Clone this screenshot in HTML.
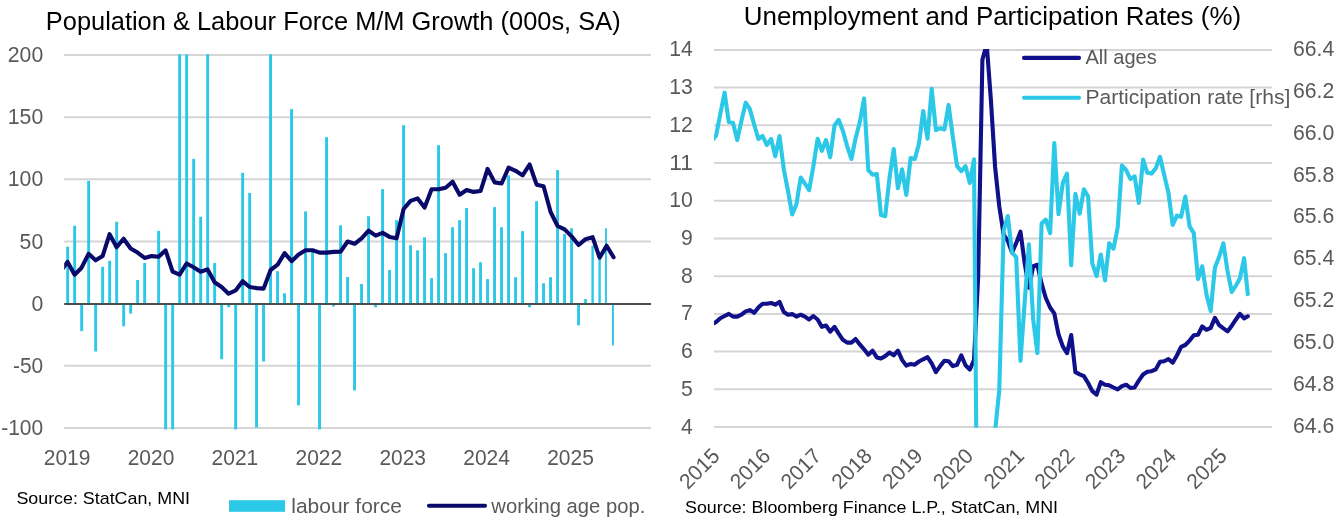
<!DOCTYPE html>
<html><head><meta charset="utf-8"><title>Charts</title>
<style>html,body{margin:0;padding:0;background:#fff;}svg{display:block;will-change:transform;}text{font-family:"Liberation Sans", sans-serif;}</style>
</head><body>
<svg width="1336" height="517" viewBox="0 0 1336 517">
<rect width="1336" height="517" fill="#fff"/>
<defs>
<clipPath id="cl"><rect x="64.2" y="54.3" width="586.8" height="375.1"/></clipPath>
<clipPath id="cr"><rect x="714" y="49.1" width="558" height="378.7"/></clipPath>
</defs>
<line x1="64.2" x2="651" y1="55" y2="55" stroke="#d5d5d5" stroke-width="2"/>
<line x1="64.2" x2="651" y1="117.2" y2="117.2" stroke="#d5d5d5" stroke-width="2"/>
<line x1="64.2" x2="651" y1="179.3" y2="179.3" stroke="#d5d5d5" stroke-width="2"/>
<line x1="64.2" x2="651" y1="241.5" y2="241.5" stroke="#d5d5d5" stroke-width="2"/>
<line x1="64.2" x2="651" y1="365.8" y2="365.8" stroke="#d5d5d5" stroke-width="2"/>
<line x1="64.2" x2="651" y1="427.9" y2="427.9" stroke="#d5d5d5" stroke-width="2"/>
<g clip-path="url(#cl)" fill="#2cc8e8">
<rect x="66.2" y="246.7" width="2.9" height="56.9"/>
<rect x="73.2" y="225.8" width="2.9" height="77.8"/>
<rect x="80.2" y="303.6" width="2.9" height="27.5"/>
<rect x="87.2" y="180.8" width="2.9" height="122.8"/>
<rect x="94.2" y="303.6" width="2.9" height="47.9"/>
<rect x="101.2" y="266.8" width="2.9" height="36.8"/>
<rect x="108.2" y="260.8" width="2.9" height="42.8"/>
<rect x="115.2" y="221.8" width="2.9" height="81.8"/>
<rect x="122.2" y="303.6" width="2.9" height="22.7"/>
<rect x="129.2" y="303.6" width="2.9" height="10"/>
<rect x="136.2" y="280" width="2.9" height="23.6"/>
<rect x="143.2" y="263" width="2.9" height="40.6"/>
<rect x="157.2" y="230.9" width="2.9" height="72.7"/>
<rect x="164.2" y="303.6" width="2.9" height="373.6"/>
<rect x="171.2" y="303.6" width="2.9" height="373.6"/>
<rect x="178.2" y="-193.6" width="2.9" height="497.2"/>
<rect x="185.2" y="-193.6" width="2.9" height="497.2"/>
<rect x="192.2" y="158.9" width="2.9" height="144.7"/>
<rect x="199.2" y="216.8" width="2.9" height="86.8"/>
<rect x="206.2" y="-193.6" width="2.9" height="497.2"/>
<rect x="213.2" y="263" width="2.9" height="40.6"/>
<rect x="220.2" y="303.6" width="2.9" height="55.6"/>
<rect x="227.2" y="303.6" width="2.9" height="3.7"/>
<rect x="234.2" y="303.6" width="2.9" height="373.6"/>
<rect x="241.2" y="172.8" width="2.9" height="130.8"/>
<rect x="248.2" y="193" width="2.9" height="110.6"/>
<rect x="255.1" y="303.6" width="2.9" height="123.9"/>
<rect x="262.1" y="303.6" width="2.9" height="57.9"/>
<rect x="269.1" y="-193.6" width="2.9" height="497.2"/>
<rect x="276.1" y="271.2" width="2.9" height="32.4"/>
<rect x="283.1" y="293.3" width="2.9" height="10.3"/>
<rect x="290.1" y="109.1" width="2.9" height="194.5"/>
<rect x="297.1" y="303.6" width="2.9" height="101.8"/>
<rect x="304.1" y="211.4" width="2.9" height="92.2"/>
<rect x="311.1" y="252.1" width="2.9" height="51.5"/>
<rect x="318.1" y="303.6" width="2.9" height="373.6"/>
<rect x="325.1" y="137.2" width="2.9" height="166.4"/>
<rect x="332.1" y="303.6" width="2.9" height="2.9"/>
<rect x="339.1" y="225.3" width="2.9" height="78.3"/>
<rect x="346.1" y="277" width="2.9" height="26.6"/>
<rect x="353.1" y="303.6" width="2.9" height="86.8"/>
<rect x="360.1" y="284" width="2.9" height="19.6"/>
<rect x="367.1" y="216.2" width="2.9" height="87.4"/>
<rect x="374.1" y="303.6" width="2.9" height="3.7"/>
<rect x="381.1" y="189.1" width="2.9" height="114.5"/>
<rect x="388.1" y="270" width="2.9" height="33.6"/>
<rect x="395.1" y="220.2" width="2.9" height="83.4"/>
<rect x="402.1" y="125.2" width="2.9" height="178.4"/>
<rect x="409.1" y="245.2" width="2.9" height="58.4"/>
<rect x="416.1" y="250.3" width="2.9" height="53.3"/>
<rect x="423.1" y="237.3" width="2.9" height="66.3"/>
<rect x="430.1" y="278.1" width="2.9" height="25.5"/>
<rect x="437.1" y="145.2" width="2.9" height="158.4"/>
<rect x="444.1" y="253.1" width="2.9" height="50.5"/>
<rect x="451.1" y="227.2" width="2.9" height="76.4"/>
<rect x="458.1" y="220.2" width="2.9" height="83.4"/>
<rect x="465.1" y="208.1" width="2.9" height="95.5"/>
<rect x="472.1" y="268.2" width="2.9" height="35.4"/>
<rect x="479.1" y="262.2" width="2.9" height="41.4"/>
<rect x="486.1" y="279.1" width="2.9" height="24.5"/>
<rect x="493.1" y="207.1" width="2.9" height="96.5"/>
<rect x="500.1" y="227.2" width="2.9" height="76.4"/>
<rect x="507.1" y="175.4" width="2.9" height="128.2"/>
<rect x="514.1" y="277.2" width="2.9" height="26.4"/>
<rect x="521.1" y="231.1" width="2.9" height="72.5"/>
<rect x="528.1" y="303.6" width="2.9" height="3.7"/>
<rect x="535.1" y="201.2" width="2.9" height="102.4"/>
<rect x="542.1" y="283.3" width="2.9" height="20.3"/>
<rect x="549.1" y="277.2" width="2.9" height="26.4"/>
<rect x="556.1" y="170.1" width="2.9" height="133.5"/>
<rect x="563.1" y="234.1" width="2.9" height="69.5"/>
<rect x="570.1" y="228.3" width="2.9" height="75.3"/>
<rect x="577.1" y="303.6" width="2.9" height="21.8"/>
<rect x="584.1" y="299.1" width="2.9" height="4.5"/>
<rect x="591.4" y="245.7" width="2.4" height="57.9"/>
<rect x="598.4" y="257.2" width="2.4" height="46.4"/>
<rect x="605" y="228.3" width="1.9" height="75.3"/>
<rect x="612" y="303.6" width="1.9" height="41.8"/>
</g>
<line x1="64.2" x2="651" y1="304" y2="304" stroke="#4c4c4c" stroke-width="2"/>
<g clip-path="url(#cl)"><polyline fill="none" stroke="#09096a" stroke-width="4.1" stroke-linejoin="round" stroke-linecap="round" points="61.2,270.5 67.6,261.9 74.6,274.7 81.6,267.7 88.6,253.8 95.6,260.3 102.6,256.1 109.6,234.1 116.6,247.3 123.6,238.7 130.6,248.5 137.6,252.6 144.6,258 151.6,256.1 158.6,256.8 165.6,250.3 172.6,271.7 179.6,274.7 186.6,263.5 193.6,267.3 200.6,271.7 207.6,269.4 214.6,282.3 221.6,287 228.6,293.7 235.6,290.5 242.6,281.2 249.6,287 256.6,288.1 263.6,288.6 270.6,270 277.6,264.7 284.6,253.1 291.6,261.2 298.6,254.5 305.6,250.3 312.6,250.3 319.6,252.6 326.6,252.6 333.6,251.9 340.6,251.7 347.6,241.5 354.6,243.8 361.6,238.3 368.6,230.6 375.6,235.7 382.6,232.9 389.6,236.9 396.6,238.3 403.6,209 410.6,200.9 417.6,198.4 424.6,207.6 431.6,189.3 438.6,189.3 445.6,187.7 452.6,181.7 459.6,194.7 466.6,190 473.6,191.9 480.6,191 487.6,168.9 494.6,182.4 501.6,183.5 508.6,167.7 515.6,170.8 522.6,175.4 529.6,164.5 536.6,184.7 543.6,186.3 550.6,212 557.6,226 564.6,229.4 571.6,236.4 578.6,245 585.6,239.2 592.6,237.1 599.6,257.7 606.6,245.7 613.6,257.3"/></g>
<text x="43.2" y="62" text-anchor="end" font-size="21.3" fill="#595959" textLength="35.4" lengthAdjust="spacingAndGlyphs">200</text>
<text x="43.2" y="124.2" text-anchor="end" font-size="21.3" fill="#595959" textLength="35.4" lengthAdjust="spacingAndGlyphs">150</text>
<text x="43.2" y="186.3" text-anchor="end" font-size="21.3" fill="#595959" textLength="35.4" lengthAdjust="spacingAndGlyphs">100</text>
<text x="43.2" y="248.5" text-anchor="end" font-size="21.3" fill="#595959" textLength="23.6" lengthAdjust="spacingAndGlyphs">50</text>
<text x="43.2" y="310.6" text-anchor="end" font-size="21.3" fill="#595959" textLength="11.8" lengthAdjust="spacingAndGlyphs">0</text>
<text x="43.2" y="372.8" text-anchor="end" font-size="21.3" fill="#595959" textLength="30.2" lengthAdjust="spacingAndGlyphs">-50</text>
<text x="43.2" y="434.9" text-anchor="end" font-size="21.3" fill="#595959" textLength="42" lengthAdjust="spacingAndGlyphs">-100</text>
<text x="67.1" y="465" text-anchor="middle" font-size="21.3" fill="#595959" textLength="46.6" lengthAdjust="spacingAndGlyphs">2019</text>
<text x="151" y="465" text-anchor="middle" font-size="21.3" fill="#595959" textLength="46.6" lengthAdjust="spacingAndGlyphs">2020</text>
<text x="234.9" y="465" text-anchor="middle" font-size="21.3" fill="#595959" textLength="46.6" lengthAdjust="spacingAndGlyphs">2021</text>
<text x="318.8" y="465" text-anchor="middle" font-size="21.3" fill="#595959" textLength="46.6" lengthAdjust="spacingAndGlyphs">2022</text>
<text x="402.7" y="465" text-anchor="middle" font-size="21.3" fill="#595959" textLength="46.6" lengthAdjust="spacingAndGlyphs">2023</text>
<text x="486.6" y="465" text-anchor="middle" font-size="21.3" fill="#595959" textLength="46.6" lengthAdjust="spacingAndGlyphs">2024</text>
<text x="570.5" y="465" text-anchor="middle" font-size="21.3" fill="#595959" textLength="46.6" lengthAdjust="spacingAndGlyphs">2025</text>
<text x="45.8" y="29.9" font-size="25.5" fill="#000" textLength="574.8" lengthAdjust="spacingAndGlyphs">Population &amp; Labour Force M/M Growth (000s, SA)</text>
<text x="16.4" y="503.5" font-size="16.4" fill="#000" textLength="173.6" lengthAdjust="spacingAndGlyphs">Source: StatCan, MNI</text>
<rect x="229" y="500.2" width="56" height="11.6" fill="#2cc8e8"/>
<text x="291.3" y="512.5" font-size="20.5" fill="#595959" textLength="110.6" lengthAdjust="spacingAndGlyphs">labour force</text>
<line x1="429" x2="485" y1="505.8" y2="505.8" stroke="#09096a" stroke-width="4.1" stroke-linecap="round"/>
<text x="491.3" y="512.5" font-size="20.5" fill="#595959" textLength="154" lengthAdjust="spacingAndGlyphs">working age pop.</text>
<line x1="714" x2="1272" y1="49.9" y2="49.9" stroke="#d5d5d5" stroke-width="2"/>
<line x1="714" x2="1272" y1="87.6" y2="87.6" stroke="#d5d5d5" stroke-width="2"/>
<line x1="714" x2="1272" y1="125.3" y2="125.3" stroke="#d5d5d5" stroke-width="2"/>
<line x1="714" x2="1272" y1="163" y2="163" stroke="#d5d5d5" stroke-width="2"/>
<line x1="714" x2="1272" y1="200.7" y2="200.7" stroke="#d5d5d5" stroke-width="2"/>
<line x1="714" x2="1272" y1="238.5" y2="238.5" stroke="#d5d5d5" stroke-width="2"/>
<line x1="714" x2="1272" y1="276.2" y2="276.2" stroke="#d5d5d5" stroke-width="2"/>
<line x1="714" x2="1272" y1="313.9" y2="313.9" stroke="#d5d5d5" stroke-width="2"/>
<line x1="714" x2="1272" y1="351.6" y2="351.6" stroke="#d5d5d5" stroke-width="2"/>
<line x1="714" x2="1272" y1="389.3" y2="389.3" stroke="#d5d5d5" stroke-width="2"/>
<line x1="714" x2="1272" y1="427" y2="427" stroke="#d5d5d5" stroke-width="2"/>
<g clip-path="url(#cr)">
<polyline fill="none" stroke="#10108a" stroke-width="4.1" stroke-linejoin="round" stroke-linecap="round" points="711,325 716.1,322 720.3,318.2 724.6,316 728.8,313.9 733,316.6 737.2,316.6 741.5,314.7 745.7,311.4 749.9,310.1 754.2,312.8 758.4,307.4 762.6,303.8 766.8,303.8 771.1,303 775.3,304.7 779.5,301.9 783.8,312 788,314.7 792.2,314.1 796.4,316.6 800.7,314.7 804.9,316.6 809.1,319.5 813.3,316 817.6,319.5 821.8,326.8 826,325.5 830.2,331.7 834.5,326.8 838.7,333.6 842.9,339.8 847.2,342.6 851.4,342.6 855.6,339 859.8,344.4 864.1,349.3 868.3,354.7 872.5,350.7 876.8,357.4 881,358.5 885.2,356.1 889.4,352.6 893.7,355.3 897.9,350.7 902.1,359.9 906.3,365.6 910.6,363.9 914.8,364.7 919,361.5 923.2,359.3 927.5,357.2 931.7,363.4 935.9,372.1 940.2,366.1 944.4,360.7 948.6,361.2 952.8,366.1 957.1,364.7 961.3,355.3 965.5,365.3 969.8,369.6 974,360 978.2,276 982.4,59.8 986.7,44 990.9,100 995.1,167 999.3,206.5 1003.6,234.4 1007.8,240.9 1012,252.6 1016.2,243.1 1020.5,231.7 1024.7,263.4 1028.9,287.8 1033.2,266.1 1037.4,264.8 1041.6,283.7 1045.8,298 1050.1,307.5 1054.3,313.4 1058.5,334.3 1062.8,346.4 1067,353.2 1071.2,335 1075.4,372.2 1079.7,374.3 1083.9,376.2 1088.1,383 1092.3,391.1 1096.6,394.6 1100.8,382.2 1105,384.7 1109.2,385.3 1113.5,387.5 1117.7,389.4 1121.9,386.1 1126.2,384.7 1130.4,388 1134.6,387.5 1138.8,380.7 1143.1,374.5 1147.3,371.8 1151.5,371.2 1155.8,369.3 1160,361.7 1164.2,361.2 1168.4,359 1172.7,362.6 1176.9,355.5 1181.1,346.8 1185.3,345 1189.6,340.6 1193.8,335.2 1198,334.7 1202.2,326.5 1206.5,329.8 1210.7,327.9 1214.9,317.9 1219.2,325.2 1223.4,328.4 1227.6,331.4 1231.8,325.7 1236.1,319.2 1239.9,313.8 1244.1,318.4 1247.8,316.3"/>
<polyline fill="none" stroke="#2cc8e8" stroke-width="4.1" stroke-linejoin="round" stroke-linecap="round" points="711,142 716.1,135.5 720.3,113.8 724.6,92.7 728.8,122 733,122.8 737.2,140.1 741.5,120.6 745.7,102.7 749.9,109.2 754.2,124.7 758.4,139 762.6,136 766.8,145 771.1,139 775.3,156.3 779.5,136 783.8,169.3 788,191 792.2,214.5 796.4,204.5 800.7,177.5 804.9,183.7 809.1,190.2 813.3,166.6 817.6,138.7 821.8,150.9 826,140.1 830.2,157.2 834.5,125.5 838.7,119.8 842.9,130.9 847.2,146.3 851.4,159 855.6,138.2 859.8,122 864.1,98.4 868.3,170.1 872.5,174.7 876.8,173.9 881,215 885.2,216.2 889.4,178.8 893.7,149 897.9,188.3 902.1,169.3 906.3,195 910.6,158 914.8,159 919,143.6 923.2,111.1 927.5,138.7 931.7,88.9 935.9,130.1 940.2,128.2 944.4,129.5 948.6,104.9 952.8,136.8 957.1,166.1 961.3,171.2 965.5,166.1 969.8,182.9 974,159.3 978.2,664 982.4,2000 986.7,1700 990.9,1200 995.1,431 999.3,389.7 1003.6,231 1007.8,216 1012,252.6 1016.2,257.2 1020.5,360.8 1024.7,302 1028.9,244.4 1033.2,319.4 1037.4,353.2 1041.6,223.6 1045.8,219.6 1050.1,233.2 1054.3,143 1058.5,214.2 1062.8,183.1 1067,173.6 1071.2,265.3 1075.4,193.9 1079.7,213.7 1083.9,189.3 1088.1,196.6 1092.3,263.4 1096.6,276.1 1100.8,254.5 1105,280.4 1109.2,243.3 1113.5,248.7 1117.7,227.4 1121.9,165.5 1126.2,170.1 1130.4,179 1134.6,176.3 1138.8,202.9 1143.1,159.5 1147.3,172.8 1151.5,173.6 1155.8,168.2 1160,156.8 1164.2,175 1168.4,192.6 1172.7,225 1176.9,215.6 1181.1,216.9 1185.3,196.6 1189.6,226.4 1193.8,233.2 1198,279 1202.2,266.3 1206.5,294.7 1210.7,311 1214.9,267.7 1219.2,256.8 1223.4,243.3 1227.6,271.7 1231.8,292 1236.1,285.3 1239.9,278.5 1244.1,258.2 1247.8,294.2"/>
</g>
<text x="692.8" y="56.4" text-anchor="end" font-size="21.3" fill="#595959" textLength="23.6" lengthAdjust="spacingAndGlyphs">14</text>
<text x="692.8" y="94.1" text-anchor="end" font-size="21.3" fill="#595959" textLength="23.6" lengthAdjust="spacingAndGlyphs">13</text>
<text x="692.8" y="131.8" text-anchor="end" font-size="21.3" fill="#595959" textLength="23.6" lengthAdjust="spacingAndGlyphs">12</text>
<text x="692.8" y="169.5" text-anchor="end" font-size="21.3" fill="#595959" textLength="23.6" lengthAdjust="spacingAndGlyphs">11</text>
<text x="692.8" y="207.2" text-anchor="end" font-size="21.3" fill="#595959" textLength="23.6" lengthAdjust="spacingAndGlyphs">10</text>
<text x="692.8" y="245" text-anchor="end" font-size="21.3" fill="#595959" textLength="11.8" lengthAdjust="spacingAndGlyphs">9</text>
<text x="692.8" y="282.7" text-anchor="end" font-size="21.3" fill="#595959" textLength="11.8" lengthAdjust="spacingAndGlyphs">8</text>
<text x="692.8" y="320.4" text-anchor="end" font-size="21.3" fill="#595959" textLength="11.8" lengthAdjust="spacingAndGlyphs">7</text>
<text x="692.8" y="358.1" text-anchor="end" font-size="21.3" fill="#595959" textLength="11.8" lengthAdjust="spacingAndGlyphs">6</text>
<text x="692.8" y="395.8" text-anchor="end" font-size="21.3" fill="#595959" textLength="11.8" lengthAdjust="spacingAndGlyphs">5</text>
<text x="692.8" y="433.5" text-anchor="end" font-size="21.3" fill="#595959" textLength="11.8" lengthAdjust="spacingAndGlyphs">4</text>
<text x="1293" y="55.8" text-anchor="start" font-size="21.3" fill="#595959" textLength="41.3" lengthAdjust="spacingAndGlyphs">66.4</text>
<text x="1293" y="97.7" text-anchor="start" font-size="21.3" fill="#595959" textLength="41.3" lengthAdjust="spacingAndGlyphs">66.2</text>
<text x="1293" y="139.6" text-anchor="start" font-size="21.3" fill="#595959" textLength="41.3" lengthAdjust="spacingAndGlyphs">66.0</text>
<text x="1293" y="181.5" text-anchor="start" font-size="21.3" fill="#595959" textLength="41.3" lengthAdjust="spacingAndGlyphs">65.8</text>
<text x="1293" y="223.4" text-anchor="start" font-size="21.3" fill="#595959" textLength="41.3" lengthAdjust="spacingAndGlyphs">65.6</text>
<text x="1293" y="265.3" text-anchor="start" font-size="21.3" fill="#595959" textLength="41.3" lengthAdjust="spacingAndGlyphs">65.4</text>
<text x="1293" y="307.2" text-anchor="start" font-size="21.3" fill="#595959" textLength="41.3" lengthAdjust="spacingAndGlyphs">65.2</text>
<text x="1293" y="349.1" text-anchor="start" font-size="21.3" fill="#595959" textLength="41.3" lengthAdjust="spacingAndGlyphs">65.0</text>
<text x="1293" y="391" text-anchor="start" font-size="21.3" fill="#595959" textLength="41.3" lengthAdjust="spacingAndGlyphs">64.8</text>
<text x="1293" y="432.9" text-anchor="start" font-size="21.3" fill="#595959" textLength="41.3" lengthAdjust="spacingAndGlyphs">64.6</text>
<text transform="translate(721,457.2) rotate(-45)" text-anchor="end" font-size="21.3" fill="#595959" textLength="46.6" lengthAdjust="spacingAndGlyphs">2015</text>
<text transform="translate(771.7,457.2) rotate(-45)" text-anchor="end" font-size="21.3" fill="#595959" textLength="46.6" lengthAdjust="spacingAndGlyphs">2016</text>
<text transform="translate(822.5,457.2) rotate(-45)" text-anchor="end" font-size="21.3" fill="#595959" textLength="46.6" lengthAdjust="spacingAndGlyphs">2017</text>
<text transform="translate(873.2,457.2) rotate(-45)" text-anchor="end" font-size="21.3" fill="#595959" textLength="46.6" lengthAdjust="spacingAndGlyphs">2018</text>
<text transform="translate(923.9,457.2) rotate(-45)" text-anchor="end" font-size="21.3" fill="#595959" textLength="46.6" lengthAdjust="spacingAndGlyphs">2019</text>
<text transform="translate(974.6,457.2) rotate(-45)" text-anchor="end" font-size="21.3" fill="#595959" textLength="46.6" lengthAdjust="spacingAndGlyphs">2020</text>
<text transform="translate(1025.4,457.2) rotate(-45)" text-anchor="end" font-size="21.3" fill="#595959" textLength="46.6" lengthAdjust="spacingAndGlyphs">2021</text>
<text transform="translate(1076.1,457.2) rotate(-45)" text-anchor="end" font-size="21.3" fill="#595959" textLength="46.6" lengthAdjust="spacingAndGlyphs">2022</text>
<text transform="translate(1126.8,457.2) rotate(-45)" text-anchor="end" font-size="21.3" fill="#595959" textLength="46.6" lengthAdjust="spacingAndGlyphs">2023</text>
<text transform="translate(1177.5,457.2) rotate(-45)" text-anchor="end" font-size="21.3" fill="#595959" textLength="46.6" lengthAdjust="spacingAndGlyphs">2024</text>
<text transform="translate(1228.3,457.2) rotate(-45)" text-anchor="end" font-size="21.3" fill="#595959" textLength="46.6" lengthAdjust="spacingAndGlyphs">2025</text>
<text x="743.8" y="24.7" font-size="25.5" fill="#000" textLength="497.3" lengthAdjust="spacingAndGlyphs">Unemployment and Participation Rates (%)</text>
<text x="685" y="512.5" font-size="16.4" fill="#000" textLength="373" lengthAdjust="spacingAndGlyphs">Source: Bloomberg Finance L.P., StatCan, MNI</text>
<line x1="1024" x2="1079" y1="57.9" y2="57.9" stroke="#10108a" stroke-width="4.1" stroke-linecap="round"/>
<text x="1085.4" y="63.8" font-size="20.5" fill="#595959" textLength="71.4" lengthAdjust="spacingAndGlyphs">All ages</text>
<line x1="1024" x2="1079" y1="97.8" y2="97.8" stroke="#2cc8e8" stroke-width="4.1" stroke-linecap="round"/>
<text x="1085.4" y="103.7" font-size="20.5" fill="#595959" textLength="204.9" lengthAdjust="spacingAndGlyphs">Participation rate [rhs]</text>
</svg>
</body></html>
